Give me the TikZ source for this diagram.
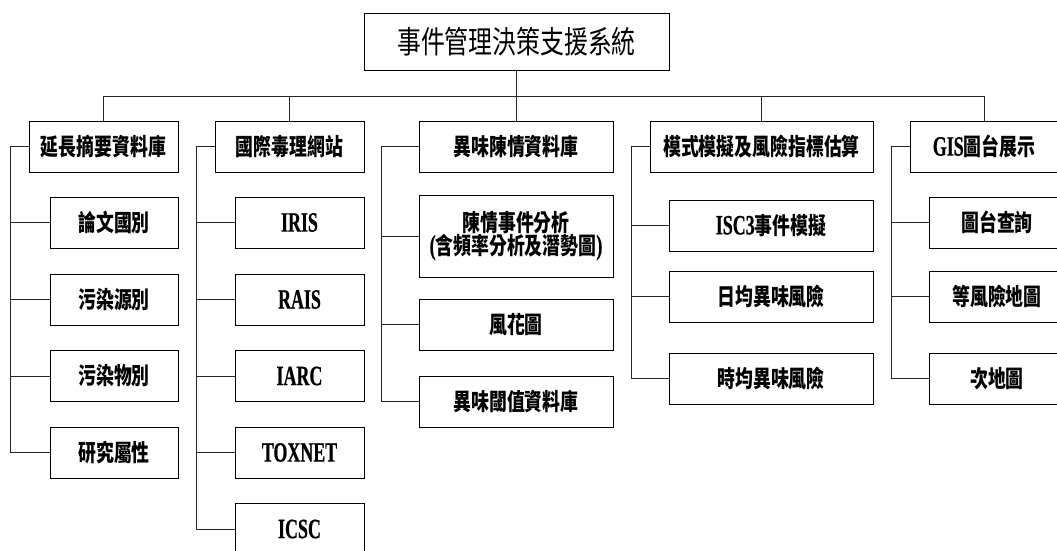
\documentclass[tikz,border=0pt]{standalone}
\usepackage{fontspec}
\setmainfont{Liberation Serif}
\newfontfamily\cjkA[FakeStretch=0.76]{Noto Sans CJK TC}
\newfontfamily\cjkB[FakeStretch=0.77]{Noto Sans CJK TC}
\newfontfamily\latA[FakeStretch=0.64,FakeBold=0.6]{Liberation Serif Bold}
\newcommand\zh[1]{{\cjkA\bfseries\fontsize{23.5}{30}\selectfont #1}}
\newcommand\en[1]{{\latA\fontsize{28}{30}\selectfont #1}}
\newcommand\zhbig[1]{{\cjkB\fontsize{31}{36}\selectfont #1}}
\tikzset{
  box/.style={draw=black, line width=0.85pt, rectangle, inner sep=0pt, align=center},
  lvl/.style={box, minimum height=51pt},
  conn/.style={draw=black!85, line width=0.9pt}
}
\begin{document}
\begin{tikzpicture}[x=1pt, y=-1pt]
\useasboundingbox (0,0) rectangle (1057,551);
\clip (0,0) rectangle (1057,551);
\fill[white] (0,0) rectangle (1057,551);
% root
\node[box, minimum width=305pt, minimum height=57pt] (root) at (516.5,41.5) {\zhbig{事件管理決策支援系統}};
% level 1
\node[lvl, minimum width=149pt] (A) at (103.5,146.5) {\zh{延長摘要資料庫}};
\node[lvl, minimum width=149pt] (B) at (289.5,146.5) {\zh{國際毒理網站}};
\node[lvl, minimum width=194pt] (C) at (516,146.5) {\zh{異味陳情資料庫}};
\node[lvl, minimum width=223pt] (D) at (761.5,146.5) {\zh{模式模擬及風險指標估算}};
\node[lvl, minimum width=148pt] (E) at (984,146.5) {\en{GIS}\zh{圖台展示}};
% A children
\node[lvl, minimum width=128pt] (A1) at (114,222.5) {\zh{論文國別}};
\node[lvl, minimum width=128pt] (A2) at (114,299.5) {\zh{污染源別}};
\node[lvl, minimum width=128pt] (A3) at (114,376) {\zh{污染物別}};
\node[lvl, minimum width=128pt] (A4) at (114,452.5) {\zh{研究屬性}};
% B children
\node[lvl, minimum width=129pt] (B1) at (299.5,222.5) {\en{IRIS}};
\node[lvl, minimum width=129pt] (B2) at (299.5,299.5) {\en{RAIS}};
\node[lvl, minimum width=129pt] (B3) at (299.5,376) {\en{IARC}};
\node[lvl, minimum width=129pt] (B4) at (299.5,452.5) {\en{TOXNET}};
\node[lvl, minimum width=129pt] (B5) at (299.5,529) {\en{ICSC}};
% C children
\node[box, minimum width=194pt, minimum height=82pt] (C1) at (516,236) {\zh{陳情事件分析}\\[-1pt]\en{(}\zh{含頻率分析及潛勢圖}\en{)}};
\node[lvl, minimum width=194pt] (C2) at (516,324.5) {\zh{風花圖}};
\node[lvl, minimum width=194pt] (C3) at (516,401.5) {\zh{異味閾值資料庫}};
% D children
\node[lvl, minimum width=204pt] (D1) at (771,225.5) {\en{ISC3}\zh{事件模擬}};
\node[lvl, minimum width=204pt] (D2) at (771,296.5) {\zh{日均異味風險}};
\node[lvl, minimum width=204pt] (D3) at (771,378.5) {\zh{時均異味風險}};
% E children
\node[lvl, minimum width=136pt] (E1) at (997,222.5) {\zh{圖台查詢}};
\node[lvl, minimum width=136pt] (E2) at (997,296.5) {\zh{等風險地圖}};
\node[lvl, minimum width=136pt] (E3) at (997,378.5) {\zh{次地圖}};
% bus
\coordinate (bus) at (512,96);
\draw[conn] (root.south) -- (root.south |- bus);
\draw[conn] (A.north) -- (A.north |- bus) -- (E.north |- bus) -- (E.north);
\foreach \n in {B,C,D} \draw[conn] (\n.north) -- (\n.north |- bus);
% spines
\coordinate (sA) at ([xshift=-18pt]A.west);
\coordinate (sB) at ([xshift=-18pt]B.west);
\coordinate (sC) at ([xshift=-37pt]C.west);
\coordinate (sD) at ([xshift=-18pt]D.west);
\coordinate (sE) at ([xshift=-18pt]E.west);
\draw[conn] (A.west) -- (sA) -- (sA |- A4.west) -- (A4.west);
\foreach \c in {A1,A2,A3} \draw[conn] (sA |- \c.west) -- (\c.west);
\draw[conn] (B.west) -- (sB) -- (sB |- B5.west) -- (B5.west);
\foreach \c in {B1,B2,B3,B4} \draw[conn] (sB |- \c.west) -- (\c.west);
\draw[conn] (C.west) -- (sC) -- (sC |- C3.west) -- (C3.west);
\foreach \c in {C1,C2} \draw[conn] (sC |- \c.west) -- (\c.west);
\draw[conn] (D.west) -- (sD) -- (sD |- D3.west) -- (D3.west);
\foreach \c in {D1,D2} \draw[conn] (sD |- \c.west) -- (\c.west);
\draw[conn] (E.west) -- (sE) -- (sE |- E3.west) -- (E3.west);
\foreach \c in {E1,E2} \draw[conn] (sE |- \c.west) -- (\c.west);
\end{tikzpicture}
\end{document}
